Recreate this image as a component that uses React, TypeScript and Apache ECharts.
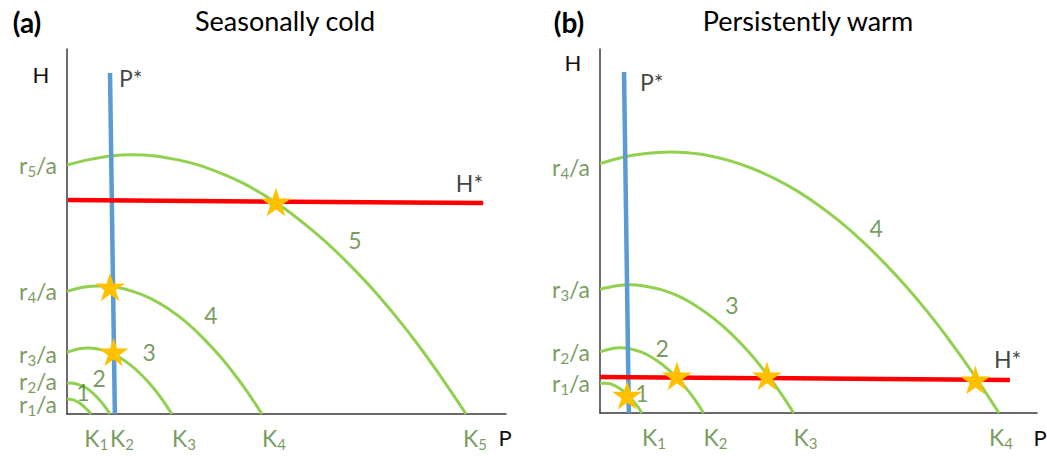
import React, { useEffect, useRef } from "react";
import * as echarts from "echarts";

// ---------- data (axis units: P and H both 0..100) ----------
// Panel (a) Seasonally cold
const curveA1 = [[0, 4.1], [1, 4.0], [2, 3.6], [3, 2.9], [4, 1.9], [5, 0.7], [5.5, 0]];
const curveA2 = [[0, 8.4], [1, 8.5], [2, 8.3], [3, 7.9], [4, 7.4], [5, 6.6], [6, 5.6], [7, 4.4], [8, 3.0], [9, 1.4], [9.8, 0]];
const curveA3 = [[0, 16.9], [2.5, 17.8], [4.8, 18.1], [7, 17.8], [9.5, 17.0], [12, 15.5], [14.5, 13.4], [17, 10.7], [19.5, 7.4], [21.5, 4.3], [23.9, 0]];
const curveA4 = [[0, 33.6], [4, 34.8], [7.5, 35.1], [11, 34.8], [15, 33.6], [19, 31.7], [23, 28.9], [27, 25.3], [31, 20.8], [35, 15.6], [38, 11.1], [41, 6.2], [44.4, 0]];
const curveA5 = [[0, 68.2], [5, 69.7], [10, 70.7], [15, 71.0], [20, 70.7], [25, 69.7], [30, 68.2], [35, 66.0], [40, 63.3], [45, 59.9], [50, 55.9], [55, 51.2], [60, 46.0], [65, 40.1], [70, 33.7], [75, 26.6], [80, 18.9], [85, 10.5], [90.9, 0]];
const pStarA = [[10.9, 0], [9.8, 93.4]];
const hStarA = [[0.2, 58.6], [94.8, 57.8]];
const starsA = [[9.8, 34.8], [10.6, 17.0], [47.6, 58.1]];
const kValuesA = [5.5, 9.8, 23.9, 44.4, 90.9];
const rValuesA = [4.1, 8.4, 16.9, 33.6, 68.2];
const curveNumbersA = ["1", "2", "3", "4", "5"];
const curveNumberPosA = [[3.6, 6.0], [7.3, 9.9], [18.7, 17.0], [32.8, 27.1], [65.6, 47.7]];

// Panel (b) Persistently warm
const curveB1 = [[0, 8.2], [1, 8.2], [2, 8.1], [3, 7.7], [4, 7.1], [5, 6.3], [6, 5.3], [7, 4.1], [8, 2.7], [9, 1.1], [9.6, 0]];
const curveB2 = [[0, 16.8], [2.3, 17.6], [4.6, 17.9], [7, 17.6], [9.5, 16.7], [12, 15.2], [14.5, 13.1], [17, 10.4], [19.5, 7.1], [21.5, 4.0], [23.7, 0]];
const curveB3 = [[0, 34.0], [3.5, 34.9], [6.9, 35.2], [10, 34.9], [14, 33.9], [18, 32.1], [22, 29.4], [26, 26.0], [30, 21.8], [34, 16.8], [37, 12.5], [40, 7.7], [42.5, 3.4], [44.3, 0]];
const curveB4 = [[0, 68.5], [5, 70.2], [10, 71.2], [16, 71.7], [20, 71.5], [25, 70.7], [30, 69.2], [35, 67.1], [40, 64.4], [45, 61.1], [50, 57.1], [55, 52.5], [60, 47.2], [65, 41.3], [70, 34.8], [75, 27.7], [80, 19.9], [85, 11.5], [91.3, 0]];
const pStarB = [[6.6, 0], [5.5, 93.7]];
const hStarB = [[0, 9.9], [93.8, 9.1]];
const starsB = [[6.2, 4.9], [17.6, 10.2], [38.2, 10.2], [85.9, 9.1]];
const kValuesB = [9.6, 23.7, 44.3, 91.3];
const rValuesB = [8.2, 16.8, 34.0, 68.5];
const curveNumbersB = ["1", "2", "3", "4"];
const curveNumberPosB = [[9.6, 5.6], [14.2, 17.9], [30.2, 29.7], [63.2, 50.7]];

const titles = ["Seasonally cold", "Persistently warm"];
const panelTags = ["(a)", "(b)"];

// ---------- styles ----------
const FONT = "Lato";
const CURVE = "#92D050";
const GREEN_TEXT = "#548235";
const BLUE = "#5B9BD5";
const RED = "#FF0000";
const GOLD = "#FFC000";
const AXIS = "#3a3a3a";
const STAR_PATH =
  "path://M50 0 L61.17 34.63 L97.55 34.55 L68.07 55.87 L79.39 90.45 L50 69 L20.61 90.45 L31.93 55.87 L2.45 34.55 L38.83 34.63 Z";

const richStyles = {
  m: { fontFamily: FONT, fontSize: 23, color: GREEN_TEXT, lineHeight: 22, verticalAlign: "top" },
  s: { fontFamily: FONT, fontSize: 15, color: GREEN_TEXT, lineHeight: 10, verticalAlign: "bottom" },
  z: { fontSize: 1, lineHeight: 25, verticalAlign: "top" },
};

function panelSeries(
  idx: number,
  curves: number[][][],
  pStar: number[][],
  hStar: number[][],
  stars: number[][],
  ks: number[],
  rs: number[],
  nums: string[],
  numPos: number[][],
  kShift: number[],
  rShift: number[],
  pOffset: number[],
  hOffset: number[],
  hAlign: string
) {
  const ax = { xAxisIndex: idx, yAxisIndex: idx };
  const out: any[] = [];
  curves.forEach((c) => {
    out.push({
      type: "line",
      ...ax,
      data: c,
      smooth: 0.3,
      symbol: "none",
      showSymbol: false,
      clip: false,
      silent: true,
      z: 2,
      lineStyle: { color: CURVE, width: 3 },
    });
  });
  out.push({
    type: "line",
    ...ax,
    data: pStar,
    symbol: "none",
    clip: false,
    silent: true,
    z: 3,
    lineStyle: { color: BLUE, width: 4.5 },
  });
  out.push({
    type: "line",
    ...ax,
    data: hStar,
    symbol: "none",
    clip: false,
    silent: true,
    z: 4,
    lineStyle: { color: RED, width: 4.5 },
  });
  out.push({
    type: "scatter",
    ...ax,
    data: stars,
    symbol: STAR_PATH,
    symbolSize: 30,
    symbolKeepAspect: true,
    clip: false,
    silent: true,
    z: 5,
    itemStyle: { color: GOLD, opacity: 1 },
  });
  // P* and H* labels anchored at line ends
  out.push({
    type: "scatter",
    ...ax,
    symbolSize: 0,
    clip: false,
    silent: true,
    z: 6,
    itemStyle: { color: "transparent" },
    data: [
      {
        value: pStar[1],
        label: {
          show: true,
          formatter: "P*",
          position: pOffset,
          align: "left",
          verticalAlign: "middle",
          fontFamily: FONT,
          fontSize: 23,
          color: "#111",
        },
      },
      {
        value: hStar[1],
        label: {
          show: true,
          formatter: "H*",
          position: hOffset,
          align: hAlign,
          verticalAlign: "middle",
          fontFamily: FONT,
          fontSize: 23,
          color: "#111",
        },
      },
    ],
  });
  // curve numbers
  out.push({
    type: "scatter",
    ...ax,
    symbolSize: 0,
    clip: false,
    silent: true,
    z: 6,
    itemStyle: { color: "transparent" },
    data: numPos.map((p, i) => ({ value: p, name: nums[i] })),
    label: {
      show: true,
      formatter: (p: any) => p.name,
      position: [0, 0],
      align: "center",
      verticalAlign: "middle",
      fontFamily: FONT,
      fontSize: 23,
      color: GREEN_TEXT,
    },
  });
  // K labels on x axis
  out.push({
    type: "scatter",
    ...ax,
    symbolSize: 0,
    clip: false,
    silent: true,
    z: 6,
    itemStyle: { color: "transparent" },
    data: ks.map((k, i) => ({
      value: [k, 0],
      label: {
        show: true,
        formatter: `{m|K}{s|${i + 1}}{z| }`,
        position: [kShift[i], 12],
        align: "left",
        verticalAlign: "top",
        rich: richStyles,
      },
    })),
  });
  // r/a labels on y axis
  out.push({
    type: "scatter",
    ...ax,
    symbolSize: 0,
    clip: false,
    silent: true,
    z: 6,
    itemStyle: { color: "transparent" },
    data: rs.map((r, i) => ({
      value: [0, r],
      label: {
        show: true,
        formatter: `{z| }{m|r}{s|${i + 1}}{m|/a}`,
        position: [-10, 1 + rShift[i]],
        align: "right",
        verticalAlign: "middle",
        rich: richStyles,
      },
    })),
  });
  return out;
}

function axisCommon(gridIndex: number) {
  return {
    type: "value",
    gridIndex,
    min: 0,
    max: 100,
    axisLine: { show: true, lineStyle: { color: AXIS, width: 1.5 } },
    axisTick: { show: false },
    axisLabel: { show: false },
    splitLine: { show: false },
  };
}

function txt(text: string, x: number, y: number, size: number, color: string, bold = false, align = "center") {
  const font = `${bold ? "bold " : ""}${size}px ${FONT}`;
  return {
    type: "text",
    x,
    y,
    silent: true,
    style: {
      text,
      font,
      fill: color,
      align,
      textAlign: align,
      verticalAlign: "middle",
      textVerticalAlign: "middle",
    },
  };
}

export default function App() {
  const ref = useRef<HTMLDivElement>(null);
  useEffect(() => {
    if (!ref.current) return;
    const chart = echarts.init(ref.current, undefined, { renderer: "svg" });
    const option: any = {
      animation: false,
      backgroundColor: "#ffffff",
      grid: [
        { left: 67, top: 49, width: 439, height: 365 },
        { left: 600, top: 49, width: 437, height: 364 },
      ],
      xAxis: [axisCommon(0), axisCommon(1)],
      yAxis: [axisCommon(0), axisCommon(1)],
      series: [
        ...panelSeries(
          0,
          [curveA1, curveA2, curveA3, curveA4, curveA5],
          pStarA,
          hStarA,
          starsA,
          kValuesA,
          rValuesA,
          curveNumbersA,
          curveNumberPosA,
          [-7, 0, 0, 0, -3],
          [5, -2, 2, 0, 0],
          [9, 5],
          [0, -20],
          "right"
        ),
        ...panelSeries(
          1,
          [curveB1, curveB2, curveB3, curveB4],
          pStarB,
          hStarB,
          starsB,
          kValuesB,
          rValuesB,
          curveNumbersB,
          curveNumberPosB,
          [0, 0, 0, -10],
          [0, 0, 0, 3],
          [16, 10],
          [-16, -21],
          "left"
        ),
      ],
      graphic: [
        txt(panelTags[0], 27, 22, 28, "#000", true),
        txt(titles[0], 285, 20, 27, "#000"),
        txt(panelTags[1], 569, 22, 28, "#000", true),
        txt(titles[1], 808, 20, 27, "#000"),
        txt("H", 41, 74, 22, "#111"),
        txt("P", 505, 437, 22, "#111"),
        txt("H", 573, 62, 22, "#111"),
        txt("P", 1040, 437, 22, "#111"),
      ],
    };
    chart.setOption(option);
    return () => chart.dispose();
  }, []);
  return (
    <div
      ref={ref}
      style={{ position: "fixed", left: 0, top: 0, width: 1047, height: 456, background: "#fff" }}
    />
  );
}
